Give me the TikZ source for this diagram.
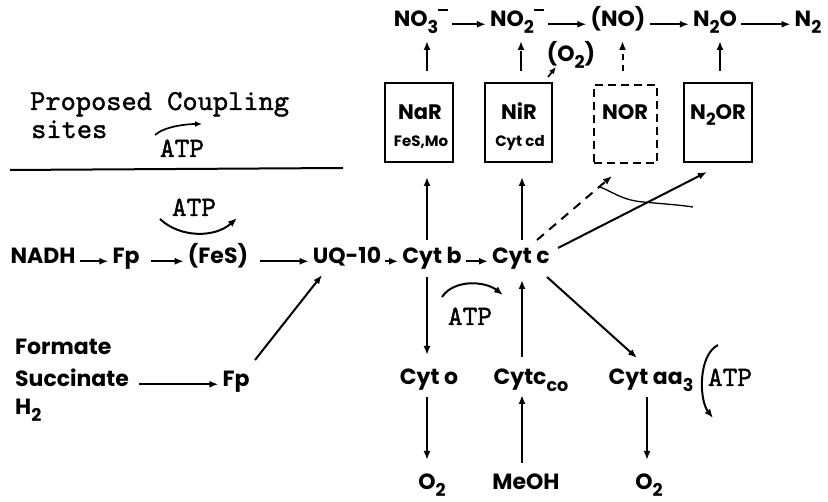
\documentclass[tikz,border=0pt]{standalone}
\usepackage{fontspec}
\setmainfont{Poppins}
\newfontfamily\cour{lmmono10-regular.otf}[FakeBold=1.3]
\usetikzlibrary{arrows.meta,calc}
\newcommand\sbs[1]{\raisebox{-0.28em}{\scalebox{0.8}{#1}}}
\newcommand\supm{\raisebox{0.72em}{\rule{0.45em}{0.09em}}}
\tikzset{
 arr/.style={-{Latex[length=9pt,width=7pt]}, line width=2pt},
 arrs/.style={-{Latex[length=7pt,width=6pt]}, line width=1.7pt},
 lab/.style={font=\fontsize{22}{24}\selectfont\bfseries, inner sep=4pt, anchor=base},
 labw/.style={font=\fontsize{22}{24}\selectfont\bfseries, inner sep=0pt, anchor=base west},
 boxlab/.style={font=\fontsize{21}{23}\selectfont\bfseries, inner sep=0pt, anchor=base},
 small/.style={font=\fontsize{15}{16}\selectfont\bfseries, inner sep=0pt, anchor=base},
 tt/.style={font=\fontsize{29}{31}\selectfont\cour, inner sep=0pt, anchor=base west},
 atp/.style={font=\fontsize{28}{30}\selectfont\cour, inner sep=0pt, anchor=base},
 enz/.style={draw, line width=2pt, minimum width=68pt, minimum height=79pt, inner sep=0pt},
}
\begin{document}
\begin{tikzpicture}[x=1pt,y=-1pt]
\useasboundingbox[fill=white] (0,0) rectangle (828,502);
% top row
\node[lab] (no3) at (421,27) {NO\sbs{3}\supm};
\node[lab] (no2) at (517,27) {NO\sbs{2}\supm};
\node[lab] (nox) at (618,27) {(NO)};
\node[lab] (n2o) at (715,27) {N\sbs{2}O};
\node[lab] (n2) at (808,27) {N\sbs{2}};
\node[lab] (o2p) at (571,62) {(O\sbs{2})};
\draw[arr] (no3.mid east) -- (no2.mid west);
\draw[arr] (no2.mid east) -- (nox.mid west);
\draw[arr] (nox.mid east) -- (n2o.mid west);
\draw[arr] (n2o.mid east) -- (n2.mid west);
% boxes
\node[enz] (nar) at (419,122.5) {};
\node[enz, minimum width=67pt] (nir) at (518.5,122.5) {};
\node[enz, dash pattern=on 8pt off 5pt, minimum width=63pt, minimum height=78pt] (nor) at (625.5,124) {};
\node[enz] (n2or) at (718,122.5) {};
\node[boxlab] (narl) at (420,120) {NaR};
\node[small] (narm) at (421,147) {FeS,Mo};
\node[boxlab] (nirl) at (519,120) {NiR};
\node[small] (nirm) at (520,147) {Cyt cd};
\node[boxlab] (norl) at (625,120) {NOR};
\node[boxlab] (n2orl) at (718,120) {N\sbs{2}OR};
\draw[arr] ($(nar.north)+(8,-11)$) -- ($(nar.north)+(8,-41)$);
\draw[arr, dash pattern=on 20pt off 4pt] ($(nir.north)+(2.5,-11)$) -- ($(nir.north)+(2.5,-41)$);
\draw[arr, dash pattern=on 6pt off 5pt] ($(nor.north)+(-3,-13)$) -- ($(nor.north)+(-3,-43)$);
\draw[arr] ($(n2or.north)+(2,-11)$) -- ($(n2or.north)+(2,-41)$);
\draw[arrs] ($(nir.north east)+(-5,-5)$) -- ($(o2p.base)+(-15,5)$);
% legend
\node[tt] (leg1) at (30,110) {Proposed Coupling};
\node[tt] (leg2) at (31,138) {sites};
\node[atp] (atpl) at (182,157) {ATP};
\draw[arrs] ($(atpl.base)+(-27,-22)$) .. controls +(10,-9) and +(-14,0) .. ($(atpl.base)+(20,-33)$);
\draw[line width=2pt] (10,170) -- (343,168);
% middle row
\node[lab] (nadh) at (43,264) {NADH};
\node[lab] (fp1) at (126,264) {Fp};
\node[lab] (fes) at (218,264) {(FeS)};
\node[lab] (uq) at (347,264) {UQ-10};
\node[lab] (cytb) at (432,264) {Cyt b};
\node[lab] (cytc) at (521,264) {Cyt c};
\draw[arr] (nadh.mid east) -- (fp1.mid west);
\draw[arr, shorten <=7pt] (fp1.mid east) -- (fes.mid west);
\draw[arr, shorten <=8pt] (fes.mid east) -- (uq.mid west);
\draw[arr] (uq.mid east) -- (cytb.mid west);
\draw[arr] (cytb.mid east) -- (cytc.mid west);
\node[atp] (atpa) at (194,216) {ATP};
\draw[arr] ($(atpa.base)+(-34,3)$) .. controls +(20,19) and +(-22,20) .. ($(atpa.base)+(43,2)$);
% left inputs
\node[labw] (form) at (15,355) {Formate};
\node[labw] (succ) at (15,387) {Succinate};
\node[labw] (h2) at (15,415) {H\sbs{2}};
\node[lab] (fp2) at (236,387) {Fp};
\draw[arr, shorten <=10pt] (succ.mid east) -- (fp2.mid west);
\draw[arr] ($(fp2.base)+(19,-27)$) -- ($(uq.base)+(-25,11)$);
% vertical connectors around cytochromes
\draw[arr] ($(cytb.base)+(-5,-24)$) -- ($(nar.south)+(8,14)$);
\draw[arr] ($(cytc.base)+(1,-24)$) -- ($(nir.south)+(3.5,14)$);
\draw[arr, dash pattern=on 9pt off 7pt] ($(cytc.base)+(16,-24)$) -- ($(nor.south)+(-13.5,12)$);
\draw[arr] ($(cytc.base)+(37,-16)$) -- ($(n2or.south)+(-11,9)$);
\draw[line width=1.3pt] (600,187) .. controls (615,193) and (622,200) .. (643,202) .. controls (665,204) and (680,205) .. (693,207);
% lower row
\node[lab] (cyto) at (429,385) {Cyt o};
\node[lab] (cytcco) at (531,385) {Cytc\sbs{co}};
\node[lab] (aa3) at (651,385) {Cyt aa\sbs{3}};
\node[atp] (atpb) at (470,325) {ATP};
\draw[arr] ($(atpb.base)+(-28,-28)$) .. controls +(12,-18) and +(-18,-14) .. ($(atpb.base)+(33,-30)$);
\node[atp] (atpc) at (730,386) {ATP};
\draw[arr] ($(atpc.base)+(-12,-41)$) .. controls +(-20,10) and +(-14,-18) .. ($(atpc.base)+(-17,32)$);
\draw[arr] ($(cytb.base)+(-5,13)$) -- ($(cyto.base)+(-2,-30)$);
\draw[arr] ($(cytcco.base)+(-9,-28)$) -- ($(cytc.base)+(1,16)$);
\draw[arr] ($(cytc.base)+(26,13)$) -- ($(aa3.base)+(-14,-27)$);
% bottom row
\node[lab] (o2a) at (432,490) {O\sbs{2}};
\node[lab] (meoh) at (526,490) {MeOH};
\node[lab] (o2b) at (649,490) {O\sbs{2}};
\draw[arr] ($(cyto.base)+(-2,12)$) -- ($(o2a.base)+(-5,-30)$);
\draw[arr] ($(meoh.base)+(-4,-27)$) -- ($(cytcco.base)+(-9,10)$);
\draw[arr] ($(aa3.base)+(-4,12)$) -- ($(o2b.base)+(-2,-30)$);
\end{tikzpicture}
\end{document}
